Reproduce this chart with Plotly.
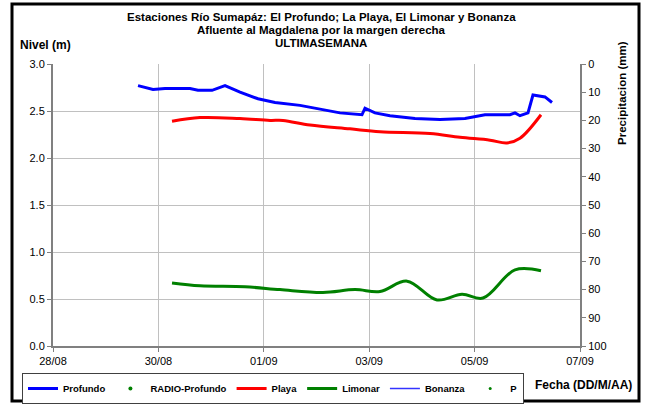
import plotly.graph_objects as go
from plotly.subplots import make_subplots

# ---- data ----
profundo_t = ["2013-08-29 14:43", "2013-08-29 21:33", "2013-08-30 03:00", "2013-08-30 14:24",
              "2013-08-30 18:00", "2013-08-31 00:25", "2013-08-31 06:20", "2013-08-31 13:10",
              "2013-08-31 21:22", "2013-09-01 05:06", "2013-09-01 16:30", "2013-09-02 01:35",
              "2013-09-02 10:42", "2013-09-02 20:43", "2013-09-02 22:05", "2013-09-03 02:38",
              "2013-09-03 09:28", "2013-09-03 20:51", "2013-09-04 08:14", "2013-09-04 19:37",
              "2013-09-05 04:44", "2013-09-05 16:07", "2013-09-05 18:24", "2013-09-05 20:40",
              "2013-09-06 00:19", "2013-09-06 02:35", "2013-09-06 08:03", "2013-09-06 11:15"]
profundo_v = [2.77, 2.73, 2.74, 2.74, 2.72, 2.72, 2.77, 2.70, 2.63, 2.59, 2.56, 2.52,
              2.48, 2.46, 2.53, 2.48, 2.45, 2.42, 2.41, 2.42, 2.46, 2.46, 2.48, 2.45,
              2.48, 2.67, 2.65, 2.59]

playa_t = ["2013-08-30 06:12", "2013-08-30 18:56", "2013-08-31 13:10", "2013-09-01 02:50",
           "2013-09-01 08:44", "2013-09-01 21:02", "2013-09-02 15:16", "2013-09-03 04:55",
           "2013-09-04 03:41", "2013-09-04 17:21", "2013-09-05 07:01", "2013-09-05 14:45",
           "2013-09-05 20:40", "2013-09-06 06:14"]
playa_v = [2.39, 2.43, 2.42, 2.40, 2.40, 2.35, 2.31, 2.28, 2.26, 2.22, 2.19, 2.16, 2.21, 2.46]

limonar_t = ["2013-08-30 06:12", "2013-08-30 18:56", "2013-08-31 15:26", "2013-09-01 07:22",
             "2013-09-02 02:57", "2013-09-02 17:32", "2013-09-03 04:55", "2013-09-03 17:13",
             "2013-09-04 06:53", "2013-09-04 18:16", "2013-09-05 03:49", "2013-09-05 18:24",
             "2013-09-06 06:14"]
limonar_v = [0.67, 0.64, 0.63, 0.60, 0.57, 0.60, 0.58, 0.69, 0.49, 0.55, 0.51, 0.81, 0.80]

title_lines = ["Estaciones Río Sumapáz: El Profundo; La Playa, El Limonar y Bonanza",
               "Afluente al Magdalena por la margen derecha",
               "ULTIMASEMANA"]

FONT = "Liberation Sans"

fig = make_subplots(specs=[[{"secondary_y": True}]])

fig.add_trace(go.Scatter(x=profundo_t, y=profundo_v, name="<b>Profundo</b>", mode="lines",
                         line=dict(color="#0000ff", width=3)), secondary_y=False)
fig.add_trace(go.Scatter(x=[None], y=[None], name="<b>RADIO-Profundo</b>", mode="markers",
                         marker=dict(color="#008000", size=4)), secondary_y=False)
fig.add_trace(go.Scatter(x=playa_t, y=playa_v, name="<b>Playa</b>", mode="lines",
                         line=dict(color="#ff0000", width=3, shape="spline")), secondary_y=False)
fig.add_trace(go.Scatter(x=limonar_t, y=limonar_v, name="<b>Limonar</b>", mode="lines",
                         line=dict(color="#008000", width=3, shape="spline")), secondary_y=False)
fig.add_trace(go.Scatter(x=[None], y=[None], name="<b>Bonanza</b>", mode="lines",
                         line=dict(color="#3333ff", width=1.5)), secondary_y=False)
fig.add_trace(go.Scatter(x=[None], y=[None], name="<b>P</b>", mode="markers",
                         marker=dict(color="#008000", size=3)), secondary_y=True)

L, R, T, B = 53, 65, 64, 59
W, H = 645, 405
pw, ph = W - L - R, H - T - B

def px(x):
    return (x - L) / pw

def py(y):
    return (H - B - y) / ph

annotations = []
for i, (txt, yy) in enumerate(zip(title_lines, [17, 30, 43])):
    annotations.append(dict(text="<b>%s</b>" % txt, x=px(321), y=py(yy), xref="paper", yref="paper",
                            showarrow=False, xanchor="center", yanchor="middle",
                            font=dict(family=FONT, size=11.5, color="black")))
annotations.append(dict(text="<b>Nivel (m)</b>", x=px(18), y=py(45), xref="paper", yref="paper",
                        showarrow=False, xanchor="left", yanchor="middle",
                        font=dict(family=FONT, size=12, color="black")))
annotations.append(dict(text="<b>Precipitacion (mm)</b>", x=px(622), y=py(93), xref="paper", yref="paper",
                        showarrow=False, xanchor="center", yanchor="middle", textangle=-90,
                        font=dict(family=FONT, size=11.5, color="black")))
annotations.append(dict(text="<b>Fecha (DD/M/AA)</b>", x=px(583), y=py(385), xref="paper", yref="paper",
                        showarrow=False, xanchor="center", yanchor="middle",
                        font=dict(family=FONT, size=12, color="black")))

shapes = [dict(type="rect", xref="paper", yref="paper",
               x0=px(12), x1=px(639), y0=py(401), y1=py(4),
               line=dict(color="black", width=3), fillcolor="rgba(0,0,0,0)", layer="above")]

fig.update_layout(
    width=W, height=H,
    margin=dict(l=L, r=R, t=T, b=B, autoexpand=False),
    paper_bgcolor="white", plot_bgcolor="white",
    font=dict(family=FONT, size=11, color="black"),
    showlegend=True,
    legend=dict(orientation="h", x=px(22), y=py(373), xanchor="left", yanchor="top",
                bordercolor="#404040", borderwidth=1, bgcolor="white",
                font=dict(family=FONT, size=9.5, color="black"),
                itemwidth=30, tracegroupgap=0),
    annotations=annotations,
    shapes=shapes,
)

fig.update_xaxes(type="date", range=["2013-08-28", "2013-09-07"], tick0="2013-08-28",
                 domain=[0, 1],
                 dtick=172800000, tickformat="%d/%m", showgrid=True, gridcolor="#c0c0c0",
                 gridwidth=1, showline=True, linecolor="#808080", linewidth=2,
                 ticks="outside", ticklen=4, tickcolor="#808080",
                 tickfont=dict(family=FONT, size=11, color="black"), zeroline=False)
fig.update_yaxes(range=[0, 3], dtick=0.5, tickformat=".1f", showgrid=True, gridcolor="#c0c0c0",
                 showline=True, linecolor="#808080", linewidth=2, ticks="outside", ticklen=4,
                 tickcolor="#808080", tickfont=dict(family=FONT, size=11, color="black"),
                 zeroline=False, secondary_y=False)
fig.update_yaxes(range=[100, 0], dtick=10, showgrid=False, showline=True, linecolor="#808080",
                 linewidth=2, ticks="outside", ticklen=4, tickcolor="#808080",
                 tickfont=dict(family=FONT, size=11, color="black"), zeroline=False,
                 secondary_y=True)

fig.write_html("out.html", config={"displayModeBar": False},
               post_script="document.body.style.margin='0';document.body.style.overflow='hidden';")
